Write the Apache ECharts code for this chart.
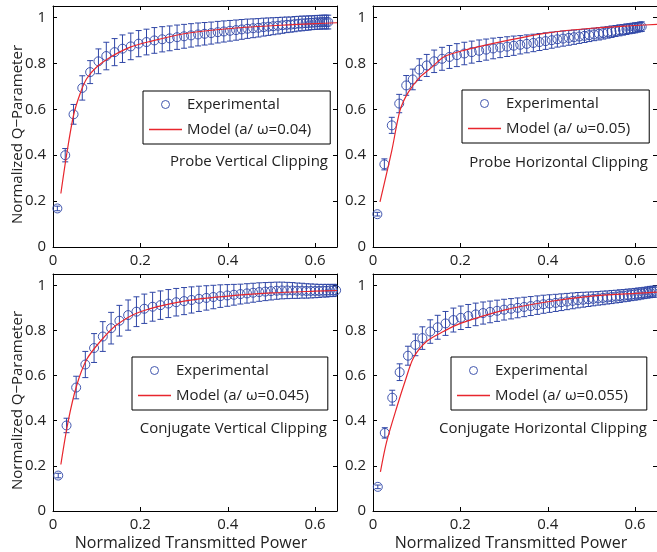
<!DOCTYPE html>
<html>
<head>
<meta charset="utf-8">
<script src="https://cdn.jsdelivr.net/npm/echarts@6/dist/echarts.min.js"></script>
<style>html,body{margin:0;padding:0;background:#fff}#chart{width:657px;height:552px}</style>
</head>
<body>
<div id="chart"></div>
<script>
var xTicks = [0, 0.2, 0.4, 0.6];
var yTicks = [0, 0.2, 0.4, 0.6, 0.8, 1];
var panelTitles = ['Probe Vertical Clipping', 'Probe Horizontal Clipping',
    'Conjugate Vertical Clipping', 'Conjugate Horizontal Clipping'];
var modelNames = ['Model (a/ \u03c9=0.04)', 'Model (a/ \u03c9=0.05)',
    'Model (a/ \u03c9=0.045)', 'Model (a/ \u03c9=0.055)'];

// probe vertical
var pvX = [0.010, 0.028, 0.047, 0.067, 0.085, 0.104, 0.122, 0.141, 0.159, 0.178,
    0.196, 0.214, 0.232, 0.250, 0.267, 0.284, 0.300, 0.316, 0.332, 0.347,
    0.362, 0.377, 0.391, 0.405, 0.419, 0.432, 0.445, 0.458, 0.470, 0.482,
    0.493, 0.504, 0.515, 0.525, 0.535, 0.544, 0.553, 0.562, 0.570, 0.578,
    0.585, 0.592, 0.599, 0.605, 0.611, 0.616, 0.621, 0.626, 0.630];
var pvY = [0.168, 0.400, 0.578, 0.693, 0.762, 0.809, 0.832, 0.849, 0.864, 0.874,
    0.886, 0.893, 0.900, 0.905, 0.909, 0.914, 0.918, 0.922, 0.926, 0.929,
    0.932, 0.936, 0.939, 0.942, 0.945, 0.948, 0.951, 0.953, 0.955, 0.958,
    0.960, 0.962, 0.964, 0.966, 0.968, 0.969, 0.971, 0.973, 0.974, 0.975,
    0.976, 0.977, 0.978, 0.979, 0.979, 0.980, 0.980, 0.980, 0.980];
var pvErr = [0.010, 0.029, 0.043, 0.053, 0.050, 0.054, 0.060, 0.059, 0.060, 0.058,
    0.057, 0.056, 0.056, 0.055, 0.054, 0.053, 0.052, 0.051, 0.050, 0.049,
    0.048, 0.047, 0.046, 0.045, 0.044, 0.043, 0.042, 0.041, 0.040, 0.039,
    0.038, 0.037, 0.036, 0.035, 0.034, 0.033, 0.033, 0.032, 0.032, 0.031,
    0.031, 0.030, 0.030, 0.030, 0.030, 0.030, 0.030, 0.030, 0.030];
var pvModelX = [0.018, 0.031, 0.047, 0.062, 0.077, 0.100, 0.131, 0.177, 0.223, 0.300, 0.400, 0.500, 0.600, 0.650];
var pvModelY = [0.233, 0.400, 0.574, 0.668, 0.733, 0.784, 0.827, 0.871, 0.896, 0.929, 0.951, 0.964, 0.973, 0.977];

// probe horizontal
var phX = [0.010, 0.026, 0.043, 0.060, 0.076, 0.091, 0.106, 0.123, 0.140, 0.158,
    0.175, 0.192, 0.209, 0.226, 0.243, 0.259, 0.275, 0.291, 0.307, 0.322,
    0.337, 0.352, 0.367, 0.381, 0.395, 0.409, 0.422, 0.435, 0.448, 0.460,
    0.472, 0.484, 0.495, 0.506, 0.517, 0.527, 0.537, 0.546, 0.555, 0.564,
    0.572, 0.580, 0.587, 0.594, 0.600, 0.606, 0.611, 0.615];
var phY = [0.143, 0.360, 0.530, 0.625, 0.704, 0.730, 0.773, 0.791, 0.809, 0.820,
    0.828, 0.836, 0.843, 0.849, 0.855, 0.860, 0.865, 0.869, 0.873, 0.877,
    0.881, 0.885, 0.889, 0.893, 0.897, 0.901, 0.905, 0.908, 0.911, 0.914,
    0.917, 0.920, 0.923, 0.926, 0.929, 0.932, 0.935, 0.938, 0.941, 0.944,
    0.946, 0.949, 0.951, 0.953, 0.955, 0.957, 0.959, 0.960];
var phErr = [0.008, 0.024, 0.035, 0.040, 0.043, 0.045, 0.047, 0.048, 0.049, 0.050,
    0.050, 0.050, 0.049, 0.048, 0.047, 0.046, 0.045, 0.044, 0.043, 0.042,
    0.040, 0.039, 0.038, 0.037, 0.036, 0.035, 0.034, 0.033, 0.032, 0.031,
    0.030, 0.029, 0.028, 0.027, 0.027, 0.026, 0.025, 0.025, 0.024, 0.024,
    0.023, 0.023, 0.022, 0.022, 0.022, 0.021, 0.021, 0.021];
var phModelX = [0.016, 0.043, 0.062, 0.081, 0.108, 0.131, 0.162, 0.208, 0.300, 0.400, 0.500, 0.600, 0.650];
var phModelY = [0.197, 0.420, 0.596, 0.675, 0.741, 0.777, 0.828, 0.857, 0.897, 0.933, 0.953, 0.965, 0.970];

// conjugate vertical
var cvX = [0.012, 0.031, 0.053, 0.074, 0.094, 0.114, 0.133, 0.152, 0.172, 0.191,
    0.209, 0.228, 0.246, 0.264, 0.282, 0.300, 0.317, 0.334, 0.351, 0.367,
    0.383, 0.399, 0.414, 0.429, 0.444, 0.458, 0.472, 0.486, 0.499, 0.512,
    0.524, 0.536, 0.548, 0.559, 0.570, 0.580, 0.590, 0.600, 0.609, 0.618,
    0.626, 0.634, 0.641, 0.648];
var cvY = [0.157, 0.379, 0.547, 0.649, 0.722, 0.773, 0.810, 0.843, 0.868, 0.883,
    0.896, 0.905, 0.912, 0.919, 0.925, 0.930, 0.935, 0.940, 0.944, 0.948,
    0.952, 0.955, 0.958, 0.961, 0.964, 0.967, 0.970, 0.972, 0.974, 0.976,
    0.977, 0.977, 0.977, 0.976, 0.976, 0.975, 0.975, 0.975, 0.975, 0.976,
    0.976, 0.977, 0.977, 0.978];
var cvErr = [0.010, 0.032, 0.050, 0.058, 0.064, 0.066, 0.070, 0.068, 0.067, 0.066,
    0.065, 0.064, 0.063, 0.062, 0.061, 0.060, 0.058, 0.056, 0.054, 0.052,
    0.050, 0.048, 0.046, 0.044, 0.043, 0.042, 0.041, 0.040, 0.039, 0.038,
    0.037, 0.036, 0.035, 0.034, 0.033, 0.032, 0.031, 0.030, 0.029, 0.028,
    0.028, 0.027, 0.027, 0.026];
var cvModelX = [0.018, 0.035, 0.054, 0.077, 0.108, 0.146, 0.200, 0.300, 0.400, 0.500, 0.600, 0.650];
var cvModelY = [0.206, 0.400, 0.555, 0.671, 0.751, 0.825, 0.883, 0.930, 0.952, 0.966, 0.974, 0.977];

// conjugate horizontal
var chX = [0.011, 0.027, 0.044, 0.061, 0.080, 0.097, 0.113, 0.131, 0.148, 0.166,
    0.184, 0.201, 0.218, 0.235, 0.252, 0.268, 0.284, 0.300, 0.316, 0.331,
    0.346, 0.361, 0.376, 0.390, 0.404, 0.418, 0.431, 0.444, 0.457, 0.469,
    0.481, 0.493, 0.504, 0.515, 0.526, 0.536, 0.546, 0.556, 0.565, 0.574,
    0.583, 0.591, 0.599, 0.607, 0.614, 0.621, 0.628, 0.634, 0.640, 0.646];
var chY = [0.107, 0.346, 0.502, 0.615, 0.688, 0.736, 0.766, 0.795, 0.814, 0.831,
    0.846, 0.856, 0.864, 0.871, 0.877, 0.882, 0.887, 0.892, 0.896, 0.900,
    0.904, 0.908, 0.912, 0.916, 0.919, 0.922, 0.925, 0.928, 0.931, 0.934,
    0.936, 0.938, 0.940, 0.942, 0.944, 0.946, 0.948, 0.950, 0.952, 0.954,
    0.956, 0.958, 0.960, 0.962, 0.964, 0.966, 0.968, 0.970, 0.971, 0.972];
var chErr = [0.008, 0.023, 0.033, 0.037, 0.042, 0.048, 0.050, 0.052, 0.053, 0.053,
    0.053, 0.052, 0.051, 0.050, 0.049, 0.048, 0.047, 0.046, 0.045, 0.044,
    0.043, 0.042, 0.041, 0.040, 0.039, 0.038, 0.037, 0.036, 0.035, 0.034,
    0.033, 0.032, 0.031, 0.030, 0.030, 0.029, 0.029, 0.028, 0.028, 0.027,
    0.027, 0.026, 0.026, 0.026, 0.025, 0.025, 0.025, 0.025, 0.025, 0.025];
var chModelX = [0.017, 0.031, 0.055, 0.074, 0.093, 0.123, 0.162, 0.200, 0.300, 0.400, 0.500, 0.600, 0.650];
var chModelY = [0.173, 0.305, 0.463, 0.578, 0.680, 0.752, 0.796, 0.831, 0.890, 0.927, 0.952, 0.964, 0.970];

var panels = [
    {x: pvX, y: pvY, err: pvErr, mx: pvModelX, my: pvModelY},
    {x: phX, y: phY, err: phErr, mx: phModelX, my: phModelY},
    {x: cvX, y: cvY, err: cvErr, mx: cvModelX, my: cvModelY},
    {x: chX, y: chY, err: chErr, mx: chModelX, my: chModelY}
];

var BLUE = '#2f46a6';
var RED = '#e8262d';
var FONT = 'Open Sans';

var grids = [
    {left: 53, top: 6, width: 284, height: 241},
    {left: 373, top: 6, width: 284, height: 241},
    {left: 53, top: 274, width: 284, height: 239},
    {left: 373, top: 274, width: 284, height: 239}
];
var legendPos = [
    {left: 143, top: 91},
    {left: 462, top: 90},
    {left: 132, top: 357},
    {left: 451, top: 357}
];
var notePos = [[328, 162], [648, 163], [327, 429], [647, 429]];

var xAxes = [], yAxes = [], series = [], legends = [], graphics = [];

panels.forEach(function (p, i) {
    var bottomRow = i >= 2, leftCol = i % 2 === 0;
    [false, true].forEach(function (mirror) {
        xAxes.push({
            type: 'value', gridIndex: i, min: 0, max: 0.65,
            position: mirror ? 'top' : 'bottom',
            name: (!mirror && bottomRow) ? 'Normalized Transmitted Power' : '',
            nameLocation: 'middle', nameGap: 24, nameMoveOverlap: false,
            nameTextStyle: {fontFamily: FONT, fontSize: 16, color: '#222', padding: [0, 8, 0, 0]},
            axisLine: {show: true, onZero: false, lineStyle: {color: '#000', width: 1}},
            axisTick: {show: true, inside: true, length: 4, customValues: xTicks, lineStyle: {color: '#000'}},
            axisLabel: {show: !mirror, customValues: xTicks, margin: 6, fontFamily: FONT, fontSize: 15, color: '#222'},
            splitLine: {show: false}
        });
        yAxes.push({
            type: 'value', gridIndex: i, min: 0, max: 1.05,
            position: mirror ? 'right' : 'left',
            name: (!mirror && leftCol) ? 'Normalized Q\u2212Parameter' : '',
            nameLocation: 'middle', nameGap: 28, nameMoveOverlap: false,
            nameTextStyle: {fontFamily: FONT, fontSize: 15, color: '#222', padding: [0, 16, 0, 0]},
            axisLine: {show: true, onZero: false, lineStyle: {color: '#000', width: 1}},
            axisTick: {show: true, inside: true, length: 4, customValues: yTicks, lineStyle: {color: '#000'}},
            axisLabel: {show: !mirror, customValues: yTicks, margin: 7, fontFamily: FONT, fontSize: 15, color: '#222'},
            splitLine: {show: false}
        });
    });

    var ax = 2 * i;
    var barData = p.x.map(function (x, k) { return [x, p.y[k] - p.err[k], p.y[k] + p.err[k]]; });
    series.push({
        type: 'custom', xAxisIndex: ax, yAxisIndex: ax, data: barData, clip: true, silent: true, z: 2,
        encode: {x: 0, y: [1, 2]},
        renderItem: function (params, api) {
            var top = api.coord([api.value(0), api.value(2)]);
            var bot = api.coord([api.value(0), api.value(1)]);
            var h = 3;
            var st = {stroke: BLUE, lineWidth: 1};
            return {type: 'group', children: [
                {type: 'line', shape: {x1: top[0], y1: top[1], x2: bot[0], y2: bot[1]}, style: st},
                {type: 'line', shape: {x1: top[0] - h, y1: top[1], x2: top[0] + h, y2: top[1]}, style: st},
                {type: 'line', shape: {x1: bot[0] - h, y1: bot[1], x2: bot[0] + h, y2: bot[1]}, style: st}
            ]};
        }
    });
    series.push({
        name: 'Experimental', type: 'scatter', xAxisIndex: ax, yAxisIndex: ax, z: 3,
        symbol: 'circle', symbolSize: 9, silent: true,
        itemStyle: {color: 'rgba(0,0,0,0)', borderColor: BLUE, borderWidth: 1, opacity: 0.9},
        data: p.x.map(function (x, k) { return [x, p.y[k]]; })
    });
    series.push({
        name: modelNames[i], type: 'line', xAxisIndex: ax, yAxisIndex: ax, z: 4,
        symbol: 'none', smooth: 0.3, silent: true,
        lineStyle: {color: RED, width: 1.2}, itemStyle: {color: RED},
        data: p.mx.map(function (x, k) { return [x, p.my[k]]; })
    });

    legends.push({
        left: legendPos[i].left, top: legendPos[i].top, orient: 'vertical',
        padding: [6, 19, 7, 6], itemGap: 10, itemWidth: 33, itemHeight: 8,
        borderColor: '#000', borderWidth: 1, backgroundColor: '#fff', selectedMode: false,
        textStyle: {fontFamily: FONT, fontSize: 15, color: '#222'},
        data: [
            {name: 'Experimental', icon: 'circle', itemStyle: {color: 'rgba(0,0,0,0)', borderColor: BLUE, borderWidth: 1}},
            {name: modelNames[i], icon: 'path://M0,0L33,0L33,1.4L0,1.4Z',
                itemStyle: {color: RED, borderColor: RED, borderWidth: 0}}
        ]
    });
    graphics.push({
        type: 'text', x: notePos[i][0], y: notePos[i][1], z: 10,
        style: {text: panelTitles[i], fontFamily: FONT, fontSize: 15, fill: '#222', align: 'right', verticalAlign: 'middle'}
    });
});

var chart = echarts.init(document.getElementById('chart'));
chart.setOption({
    animation: false,
    backgroundColor: '#fff',
    grid: grids,
    xAxis: xAxes,
    yAxis: yAxes,
    legend: legends,
    graphic: graphics,
    series: series
});
</script>
</body>
</html>
